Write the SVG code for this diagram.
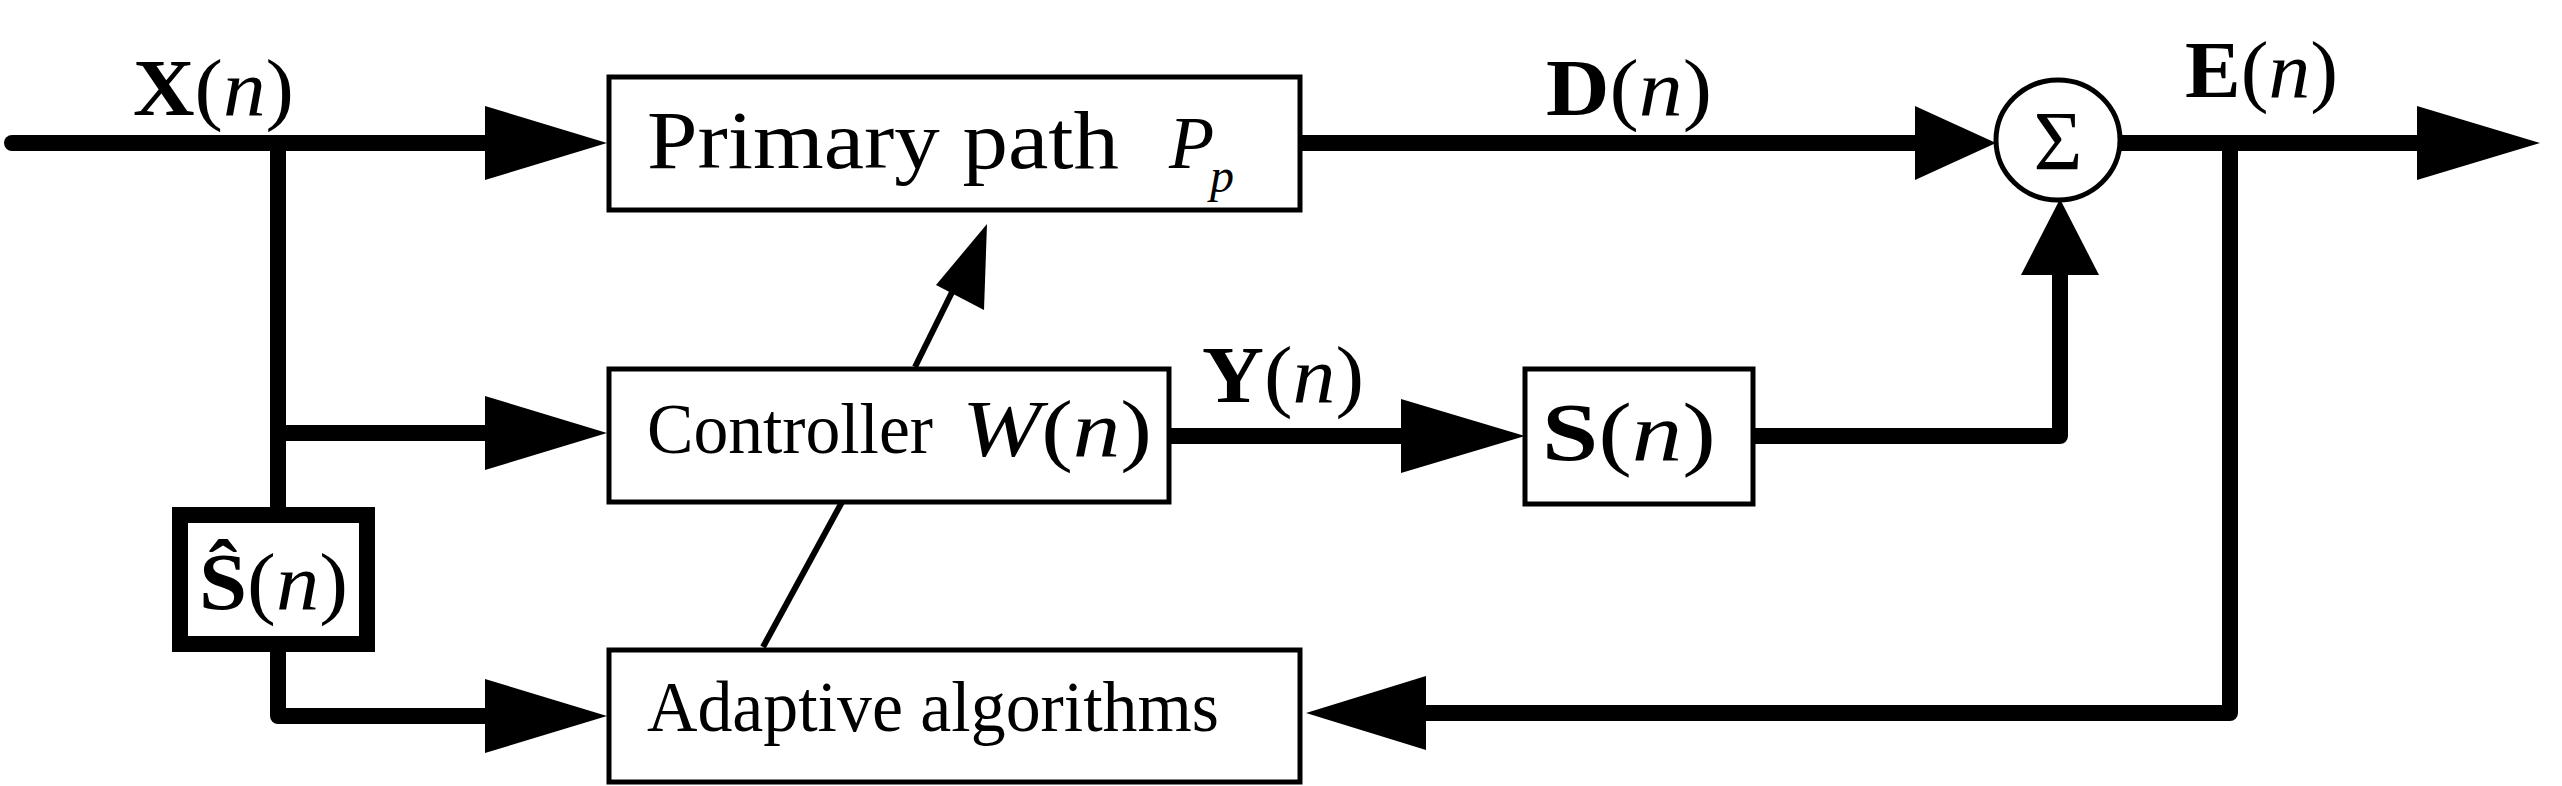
<svg xmlns="http://www.w3.org/2000/svg" width="2562" height="786" viewBox="0 0 2562 786">
<style>
.box{fill:#fff;stroke:#000;stroke-width:5}
.w{fill:none;stroke:#000;stroke-width:16;stroke-linecap:round;stroke-linejoin:round}
.t{font-family:'Liberation Serif','Times New Roman',Tinos,serif;fill:#000}
.b{font-weight:bold}
.i{font-style:italic}
.ah{fill:#000}
</style>
<rect width="2562" height="786" fill="#fff"/>
<g id="connectors">
<path class="w" d="M12 143 H500"/>
<path class="w" d="M278 143 V507 M278 433 H500"/>
<path class="w" d="M278 652 V716 H500"/>
<path class="w" d="M1300 143 H1920"/>
<path class="w" d="M1169 436 H1410"/>
<path class="w" d="M1753 436 H2060 V270"/>
<path class="w" d="M2120 143 H2420"/>
<path class="w" d="M2230 143 V713 H1420"/>
<path fill="none" stroke="#000" stroke-width="6" d="M915 367 L962 272"/>
<path fill="none" stroke="#000" stroke-width="6" d="M763 647 L842 502"/>
<polygon class="ah" points="485,106 607,143 485,180"/>
<polygon class="ah" points="485,396 607,433 485,470"/>
<polygon class="ah" points="485,679 607,716 485,753"/>
<polygon class="ah" points="1915,106 1996,143 1915,180"/>
<polygon class="ah" points="1401,399 1525,436 1401,473"/>
<polygon class="ah" points="2021,275 2060,199 2099,275"/>
<polygon class="ah" points="2417,106 2540,143 2417,180"/>
<polygon class="ah" points="1426,676 1306,713 1426,750"/>
<polygon class="ah" points="987,224 984,310 936,285"/>
</g>
<g id="primary">
<rect class="box" x="609" y="77" width="691" height="133"/>
<text class="t" x="647" y="168" font-size="82" textLength="472" lengthAdjust="spacingAndGlyphs">Primary path</text>
<text class="t i" x="1169" y="168" font-size="74">P</text>
<text class="t i" x="1210" y="192" font-size="48">p</text>
</g>
<g id="controller">
<rect class="box" x="609" y="369" width="560" height="133"/>
<text class="t" x="647" y="453" font-size="72" textLength="286" lengthAdjust="spacingAndGlyphs">Controller</text>
<text class="t" x="962" y="456" font-size="80" textLength="190" lengthAdjust="spacingAndGlyphs"><tspan class="i">W</tspan>(<tspan class="i">n</tspan>)</text>
</g>
<g id="adaptive">
<rect class="box" x="609" y="650" width="691" height="132"/>
<text class="t" x="647" y="731" font-size="72" textLength="572" lengthAdjust="spacingAndGlyphs">Adaptive algorithms</text>
</g>
<g id="shat">
<rect x="180" y="515" width="187" height="129" fill="#fff" stroke="#000" stroke-width="16"/>
<text class="t" x="199" y="609" font-size="80" textLength="149" lengthAdjust="spacingAndGlyphs"><tspan class="b">Ŝ</tspan>(<tspan class="i">n</tspan>)</text>
</g>
<g id="s">
<rect class="box" x="1525" y="369" width="228" height="135"/>
<text class="t" x="1542" y="460" font-size="82" textLength="174" lengthAdjust="spacingAndGlyphs"><tspan class="b">S</tspan>(<tspan class="i">n</tspan>)</text>
</g>
<g id="sum">
<ellipse cx="2058" cy="140" rx="62" ry="60" fill="#fff" stroke="#000" stroke-width="5"/>
<text class="t" x="2058" y="170" font-size="84" text-anchor="middle">Σ</text>
</g>
<g id="labels">
<text class="t" x="133" y="115" font-size="80" textLength="161" lengthAdjust="spacingAndGlyphs"><tspan class="b">X</tspan>(<tspan class="i">n</tspan>)</text>
<text class="t" x="1546" y="115" font-size="80" textLength="166" lengthAdjust="spacingAndGlyphs"><tspan class="b">D</tspan>(<tspan class="i">n</tspan>)</text>
<text class="t" x="2185" y="97" font-size="80" textLength="153" lengthAdjust="spacingAndGlyphs"><tspan class="b">E</tspan>(<tspan class="i">n</tspan>)</text>
<text class="t" x="1202" y="402" font-size="80" textLength="162" lengthAdjust="spacingAndGlyphs"><tspan class="b">Y</tspan>(<tspan class="i">n</tspan>)</text>
</g>
</svg>
